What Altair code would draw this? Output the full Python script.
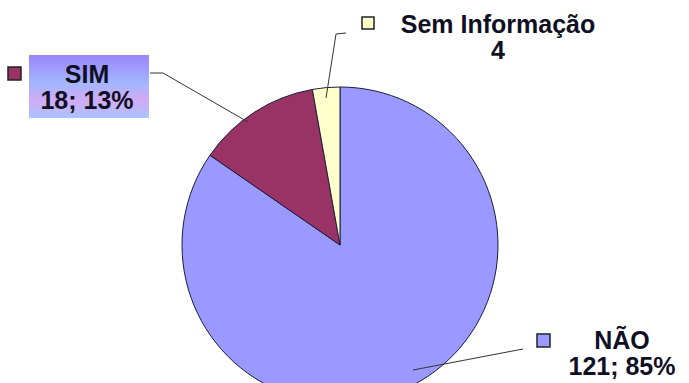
import altair as alt
import pandas as pd

# Survey answers and their counts
categories = ["NÃO", "SIM", "Sem Informação"]
counts = [121, 18, 4]
colors = ["#9999FF", "#993366", "#FFFFCC"]

total = sum(counts)
value_lines = [
    f"{counts[0]}; {round(100 * counts[0] / total)}%",
    f"{counts[1]}; {round(100 * counts[1] / total)}%",
    f"{counts[2]}",
]

pie_df = pd.DataFrame({"categoria": categories, "n": counts, "ordem": [0, 1, 2]})

W, H = 689, 383
FONT = "Liberation Sans"
TXT = "#101024"
EDGE = "#1c1c3c"

pie = alt.Chart(pie_df).mark_arc(
    radius=158, stroke=EDGE, strokeWidth=1
).encode(
    theta=alt.Theta("n:Q", stack=True),
    order=alt.Order("ordem:Q"),
    color=alt.Color("categoria:N", scale=alt.Scale(domain=categories, range=colors), legend=None),
    x=alt.value(340),
    y=alt.value(245),
)


def seg(x1, y1, x2, y2):
    return alt.Chart(pd.DataFrame({"k": [0]})).mark_rule(color="#333333", strokeWidth=1).encode(
        x=alt.value(x1), y=alt.value(y1), x2=alt.value(x2), y2=alt.value(y2)
    )


def key(x, y, size, fill):
    return alt.Chart(pd.DataFrame({"k": [0]})).mark_rect(
        fill=fill, stroke="#222222", strokeWidth=1.5
    ).encode(
        x=alt.value(x), y=alt.value(y), x2=alt.value(x + size), y2=alt.value(y + size)
    )


def label(lines, x, y):
    df = pd.DataFrame({"t": lines, "i": list(range(len(lines)))})
    return alt.Chart(df).transform_calculate(
        yy=f"{y} + datum.i * 26"
    ).mark_text(
        font=FONT, fontSize=25, fontWeight="bold", color=TXT, align="center", baseline="middle"
    ).encode(
        text="t:N", x=alt.value(x), y=alt.Y("yy:Q", scale=None)
    )


# Gradient box behind the SIM label
box = alt.Chart(pd.DataFrame({"k": [0]})).mark_rect(
    fill=alt.Gradient(
        gradient="linear",
        stops=[
            alt.GradientStop(color="#9a84fb", offset=0),
            alt.GradientStop(color="#a4b6ff", offset=0.45),
            alt.GradientStop(color="#d2aaf6", offset=0.72),
            alt.GradientStop(color="#aac4ff", offset=1),
        ],
        x1=0, x2=0, y1=0, y2=1,
    )
).encode(x=alt.value(29), x2=alt.value(149), y=alt.value(55), y2=alt.value(118))

layers = [
    pie,
    # leader lines
    seg(150, 73, 163, 73), seg(163, 73, 248, 122),
    seg(346, 33, 336, 34), seg(336, 34, 326, 98),
    seg(413, 370, 523, 349),
    box,
    key(8, 67, 13, colors[1]),
    key(362, 17, 12, colors[2]),
    key(537, 334, 13, colors[0]),
    label([categories[1], value_lines[1]], 87, 75),
    label([categories[2], value_lines[2]], 498, 25),
    label([categories[0], value_lines[0]], 622, 341),
]

chart = alt.layer(*layers).properties(
    width=W, height=H, padding=0, autosize=alt.AutoSizeParams(type="none"),
    background="white",
).configure_view(stroke=None)

chart.save("out.html", embed_options={"renderer": "svg", "actions": False})
